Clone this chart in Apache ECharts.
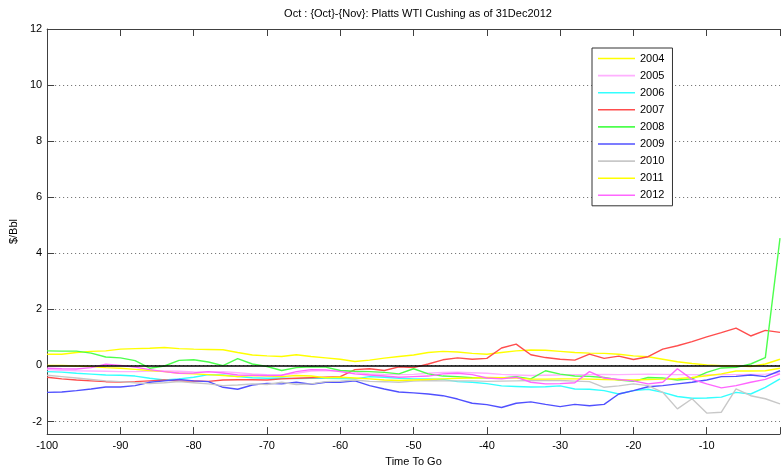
<!DOCTYPE html>
<html>
<head>
<meta charset="utf-8">
<script src="https://cdn.jsdelivr.net/npm/echarts/dist/echarts.min.js"></script>
<style>
  html, body { margin: 0; padding: 0; background: #ffffff; }
  #chart { width: 783px; height: 472px; }
</style>
</head>
<body>
<div id="chart"></div>
<script>
// Days remaining before expiry of the Oct/Nov spread
const daysToGo = [-100, -98, -96, -94, -92, -90, -88, -86, -84, -82, -80, -78, -76, -74, -72, -70, -68, -66, -64, -62,
  -60, -58, -56, -54, -52, -50, -48, -46, -44, -42, -40, -38, -36, -34, -32, -30, -28, -26, -24, -22,
  -20, -18, -16, -14, -12, -10, -8, -6, -4, -2, 0];

// Spread in $/Bbl for each contract year
const y2004 = [0.40, 0.40, 0.46, 0.50, 0.52, 0.58, 0.60, 0.61, 0.64, 0.60, 0.58, 0.57,
  0.56, 0.46, 0.37, 0.34, 0.32, 0.38, 0.32, 0.27, 0.22, 0.14,
  0.19, 0.26, 0.32, 0.37, 0.46, 0.50, 0.48, 0.43, 0.40, 0.46, 0.52,
  0.55, 0.54, 0.50, 0.46, 0.44, 0.43, 0.40, 0.34, 0.31, 0.22, 0.13, 0.07, 0.02, -0.01, -0.01, -0.04, 0.05, 0.22];
const y2005 = [-0.15, -0.17, -0.19, -0.20, -0.21, -0.22, -0.22, -0.20, -0.20, -0.21, -0.23, -0.24,
  -0.22, -0.26, -0.30, -0.33, -0.34, -0.28, -0.20, -0.18, -0.19, -0.25,
  -0.30, -0.32, -0.33, -0.32, -0.28, -0.25, -0.24, -0.26, -0.28, -0.32, -0.34,
  -0.36, -0.35, -0.34, -0.33, -0.33, -0.32, -0.33, -0.32, -0.31, -0.32, -0.33, -0.33, -0.34, -0.33, -0.33, -0.32, -0.31, -0.27];
const y2006 = [-0.22, -0.24, -0.28, -0.31, -0.34, -0.35, -0.38, -0.46, -0.52, -0.48, -0.42, -0.33,
  -0.34, -0.40, -0.44, -0.46, -0.45, -0.47, -0.46, -0.46, -0.47, -0.48,
  -0.40, -0.42, -0.46, -0.48, -0.48, -0.50, -0.58, -0.60, -0.65, -0.73, -0.75,
  -0.77, -0.76, -0.73, -0.84, -0.85, -0.90, -1.02, -0.90, -0.85, -0.96, -1.11, -1.17, -1.16, -1.13, -0.96, -1.02, -0.78, -0.48];
const y2007 = [-0.42, -0.48, -0.52, -0.55, -0.58, -0.59, -0.58, -0.55, -0.52, -0.56, -0.55, -0.57,
  -0.52, -0.51, -0.51, -0.52, -0.48, -0.46, -0.44, -0.42, -0.40, -0.15,
  -0.12, -0.18, -0.05, -0.08, 0.05, 0.20, 0.27, 0.22, 0.25, 0.62, 0.76,
  0.38, 0.28, 0.22, 0.19, 0.40, 0.25, 0.33, 0.21, 0.31, 0.58, 0.70, 0.85, 1.02, 1.17, 1.33, 1.05, 1.25, 1.18];
const y2008 = [0.52, 0.51, 0.51, 0.44, 0.30, 0.27, 0.17, -0.10, -0.02, 0.18, 0.20, 0.12,
  -0.01, 0.24, 0.05, -0.04, -0.18, -0.08, -0.05, -0.06, -0.18, -0.21,
  -0.22, -0.25, -0.30, -0.12, -0.30, -0.38, -0.40, -0.44, -0.44, -0.45, -0.40,
  -0.48, -0.19, -0.31, -0.38, -0.39, -0.43, -0.52, -0.57, -0.43, -0.45, -0.52, -0.48, -0.25, -0.09, -0.07, 0.05, 0.28, 4.54];
const y2009 = [-0.96, -0.95, -0.90, -0.84, -0.77, -0.77, -0.72, -0.60, -0.55, -0.50, -0.55, -0.58,
  -0.78, -0.85, -0.70, -0.64, -0.66, -0.60, -0.67, -0.60, -0.60, -0.55,
  -0.72, -0.84, -0.95, -0.98, -1.02, -1.08, -1.20, -1.35, -1.40, -1.50, -1.35,
  -1.30, -1.39, -1.47, -1.39, -1.44, -1.39, -1.02, -0.90, -0.76, -0.72, -0.66, -0.60, -0.52, -0.40, -0.39, -0.34, -0.40, -0.19];
const y2010 = [-0.35, -0.40, -0.45, -0.50, -0.55, -0.58, -0.62, -0.65, -0.62, -0.58, -0.62, -0.66,
  -0.72, -0.70, -0.66, -0.68, -0.60, -0.68, -0.66, -0.58, -0.56, -0.52,
  -0.57, -0.58, -0.60, -0.56, -0.54, -0.55, -0.55, -0.55, -0.57, -0.56, -0.55,
  -0.54, -0.54, -0.54, -0.56, -0.58, -0.78, -0.73, -0.66, -0.72, -0.96, -1.55, -1.19, -1.70, -1.67, -0.84, -1.08, -1.19, -1.37];
const y2011 = [0.00, 0.00, -0.02, -0.04, -0.08, -0.10, -0.14, -0.18, -0.22, -0.28, -0.30, -0.33,
  -0.36, -0.40, -0.36, -0.38, -0.40, -0.36, -0.38, -0.44, -0.42, -0.45,
  -0.48, -0.52, -0.54, -0.52, -0.50, -0.48, -0.46, -0.45, -0.43, -0.44, -0.45,
  -0.49, -0.49, -0.48, -0.48, -0.49, -0.50, -0.51, -0.52, -0.50, -0.49, -0.47, -0.43, -0.37, -0.30, -0.20, -0.20, -0.19, -0.10];
const y2012 = [-0.10, -0.12, -0.13, -0.08, 0.04, 0.00, -0.06, -0.15, -0.22, -0.28, -0.27, -0.22,
  -0.27, -0.34, -0.35, -0.36, -0.35, -0.22, -0.15, -0.16, -0.22, -0.30,
  -0.34, -0.38, -0.42, -0.40, -0.38, -0.30, -0.28, -0.33, -0.45, -0.48, -0.42,
  -0.60, -0.66, -0.65, -0.62, -0.22, -0.45, -0.50, -0.55, -0.66, -0.60, -0.12, -0.50, -0.66, -0.80, -0.72, -0.60, -0.50, -0.30];

const years = ['2004', '2005', '2006', '2007', '2008', '2009', '2010', '2011', '2012'];
const yearValues = [y2004, y2005, y2006, y2007, y2008, y2009, y2010, y2011, y2012];
const yearColors = ['#ffff00', '#ffb0ff', '#33ffff', '#ff4d4d', '#4dff4d', '#5050ff', '#c8c8c8', '#ffff00', '#ff66ff'];

const yTicks = [-2, 0, 2, 4, 6, 8, 10, 12];
const FONT = '"Liberation Sans", Arial, Helvetica, sans-serif';
const AXIS_COLOR = '#404040';

const chart = echarts.init(document.getElementById('chart'), null, { renderer: 'canvas' });

const series = years.map((name, i) => ({
  name: name,
  type: 'line',
  symbol: 'none',
  animation: false,
  lineStyle: { color: yearColors[i], width: 1.4 },
  itemStyle: { color: yearColors[i] },
  data: daysToGo.map((d, k) => [d, yearValues[i][k]]),
  markLine: i === 0 ? {
    silent: true,
    symbol: 'none',
    label: { show: false },
    lineStyle: { color: '#000000', width: 1.5, type: 'solid' },
    data: [{ yAxis: 0 }]
  } : undefined
}));

const tickCommon = { show: true, inside: true, length: 7, lineStyle: { color: AXIS_COLOR } };

chart.setOption({
  animation: false,
  backgroundColor: '#ffffff',
  textStyle: { fontFamily: FONT },
  title: {
    text: 'Oct : {Oct}-{Nov}: Platts WTI Cushing as of 31Dec2012',
    left: 413,
    top: 3,
    textAlign: 'center',
    textStyle: { fontSize: 11, fontWeight: 'normal', color: '#000', fontFamily: FONT }
  },
  legend: {
    data: years,
    orient: 'vertical',
    left: 592,
    top: 48,
    icon: 'path://M0,0L37,0L37,1.6L0,1.6Z',
    symbolKeepAspect: true,
    itemWidth: 37,
    itemHeight: 11,
    itemGap: 6.1,
    padding: [5, 8, 5, 6],
    borderColor: '#333',
    borderWidth: 1,
    backgroundColor: '#ffffff',
    textStyle: { fontSize: 11, color: '#000', fontFamily: FONT }
  },
  grid: { left: 45, top: 29, width: 740, height: 408, containLabel: false },
  xAxis: [{
    type: 'value',
    min: -100,
    max: 0,
    interval: 10,
    name: 'Time To Go',
    nameLocation: 'middle',
    nameGap: 20,
    nameTextStyle: { fontSize: 11, color: '#000', fontFamily: FONT },
    axisLine: { show: true, onZero: false, lineStyle: { color: AXIS_COLOR } },
    axisTick: tickCommon,
    axisLabel: { fontSize: 11, color: '#000', margin: 6, formatter: v => (v === 0 ? '' : String(v)) },
    splitLine: { show: false }
  }, {
    type: 'value',
    position: 'top',
    min: -100,
    max: 0,
    interval: 10,
    axisLine: { show: true, onZero: false, lineStyle: { color: AXIS_COLOR } },
    axisTick: tickCommon,
    axisLabel: { show: false },
    splitLine: { show: false }
  }],
  yAxis: {
    type: 'value',
    min: -2.45,
    max: 12,
    name: '$/Bbl',
    nameLocation: 'middle',
    nameGap: 22,
    nameTextStyle: { fontSize: 11, color: '#000', fontFamily: FONT },
    axisLine: { show: true, onZero: false, lineStyle: { color: AXIS_COLOR } },
    axisTick: Object.assign({ customValues: yTicks }, tickCommon),
    axisLabel: { fontSize: 11, color: '#000', margin: 5, customValues: yTicks },
    splitLine: { show: true, lineStyle: { color: '#666', type: [1, 3], width: 1 } }
  },
  series: series
});
</script>
</body>
</html>
